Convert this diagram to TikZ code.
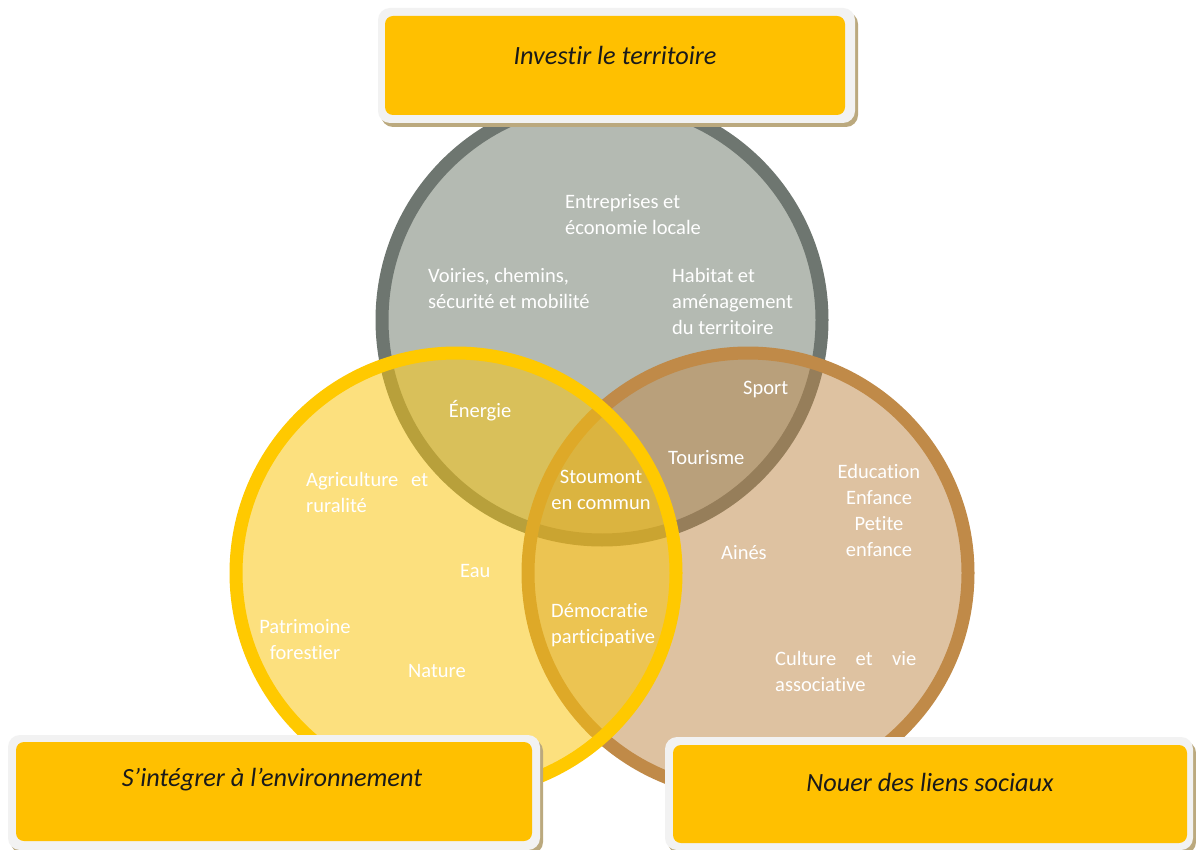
\documentclass[tikz,border=0pt]{standalone}
\usepackage{fontspec}
\setmainfont[Ligatures=NoCommon,RawFeature={-liga;-calt;-clig;-dlig}]{Carlito}
\definecolor{grayfill}{HTML}{B4BAB2}
\definecolor{grayline}{HTML}{6E7670}
\definecolor{tanfill}{HTML}{BF8745}
\definecolor{tanline}{HTML}{C08A48}
\definecolor{yelfill}{HTML}{FAC60D}
\definecolor{yelline}{HTML}{FFC900}
\definecolor{boxgray}{HTML}{F2F2F2}
\definecolor{boxorange}{HTML}{FFC000}
\definecolor{shadowc}{HTML}{BBA97E}
\definecolor{titletext}{HTML}{1A1A1A}
\begin{document}
\begin{tikzpicture}[x=1pt,y=-1pt,
  lbl/.style={text=white,font=\fontsize{20.5}{26}\selectfont,inner sep=0pt},
  ttl/.style={text=titletext,font=\fontsize{26.3}{31}\selectfont\itshape,inner sep=0pt},
  ring/.style={line width=13pt},
  shadowbox/.style={fill=shadowc,rounded corners=12pt},
  outerbox/.style={fill=boxgray,rounded corners=12pt},
  innerbox/.style={fill=boxorange,rounded corners=8pt}]
\useasboundingbox (0,0) rectangle (1196,850);
\fill[white] (0,0) rectangle (1196,850);
% circles
\draw[ring,draw=grayline,fill=grayfill] (602,320) circle[radius=220pt];
\draw[ring,draw=tanline,fill=tanfill,fill opacity=0.5,draw opacity=1] (748,573) circle[radius=220pt];
\draw[ring,draw=yelline,fill=yelfill,fill opacity=0.53,draw opacity=1] (456,573) circle[radius=220pt];
% labels
\node[lbl,align=left,anchor=west] (entr) at (565,215) {Entreprises et\\économie locale};
\node[lbl,align=left,anchor=west] (voir) at (428,288) {Voiries, chemins,\\sécurité et mobilité};
\node[lbl,align=left,anchor=west] (habi) at (672,301) {Habitat et\\aménagement\\du territoire};
\node[lbl] (ener) at (480,411) {Énergie};
\node[lbl,anchor=west] (sport) at (743,389) {Sport};
\node[lbl,anchor=west] (tour) at (668,458) {Tourisme};
\node[lbl,align=center] (stou) at (601,490) {Stoumont\\en commun};
\node[lbl,align=left,anchor=west] (agri) at (306,492) {\hbox to 122pt{Agriculture\hfil et}\\ruralité};
\node[lbl,align=center] (educ) at (879,510) {Education\\Enfance\\Petite\\enfance};
\node[lbl,anchor=west] (aine) at (721,553) {Ainés};
\node[lbl,anchor=west] (eau) at (460,571) {Eau};
\node[lbl,align=left,anchor=west] (demo) at (551,625) {Démocratie\\participative};
\node[lbl,align=center] (patr) at (305,640) {Patrimoine\\forestier};
\node[lbl,anchor=west] (natu) at (408,671) {Nature};
\node[lbl,align=left,anchor=west] (cult) at (775,671) {\hbox to 141pt{Culture\hfil et\hfil vie}\\associative};
% top box
\fill[shadowbox] (381,12) rectangle (858,127);
\fill[outerbox] (378,8) rectangle (855,123);
\fill[innerbox] (385,16) rectangle (845,115);
\node[ttl] (t1) at (615,55) {Investir le territoire};
% bottom left box
\fill[shadowbox] (11,739) rectangle (543,854);
\fill[outerbox] (8,735) rectangle (540,850);
\fill[innerbox] (16,742) rectangle (532,841);
\node[ttl] (t2) at (272,780) {S’intégrer à l’environnement};
% bottom right box
\fill[shadowbox] (668,741) rectangle (1196,854);
\fill[outerbox] (665,737) rectangle (1193,850);
\fill[innerbox] (673,745) rectangle (1187,843);
\node[ttl] (t3) at (930,782) {Nouer des liens sociaux};
\end{tikzpicture}
\end{document}
